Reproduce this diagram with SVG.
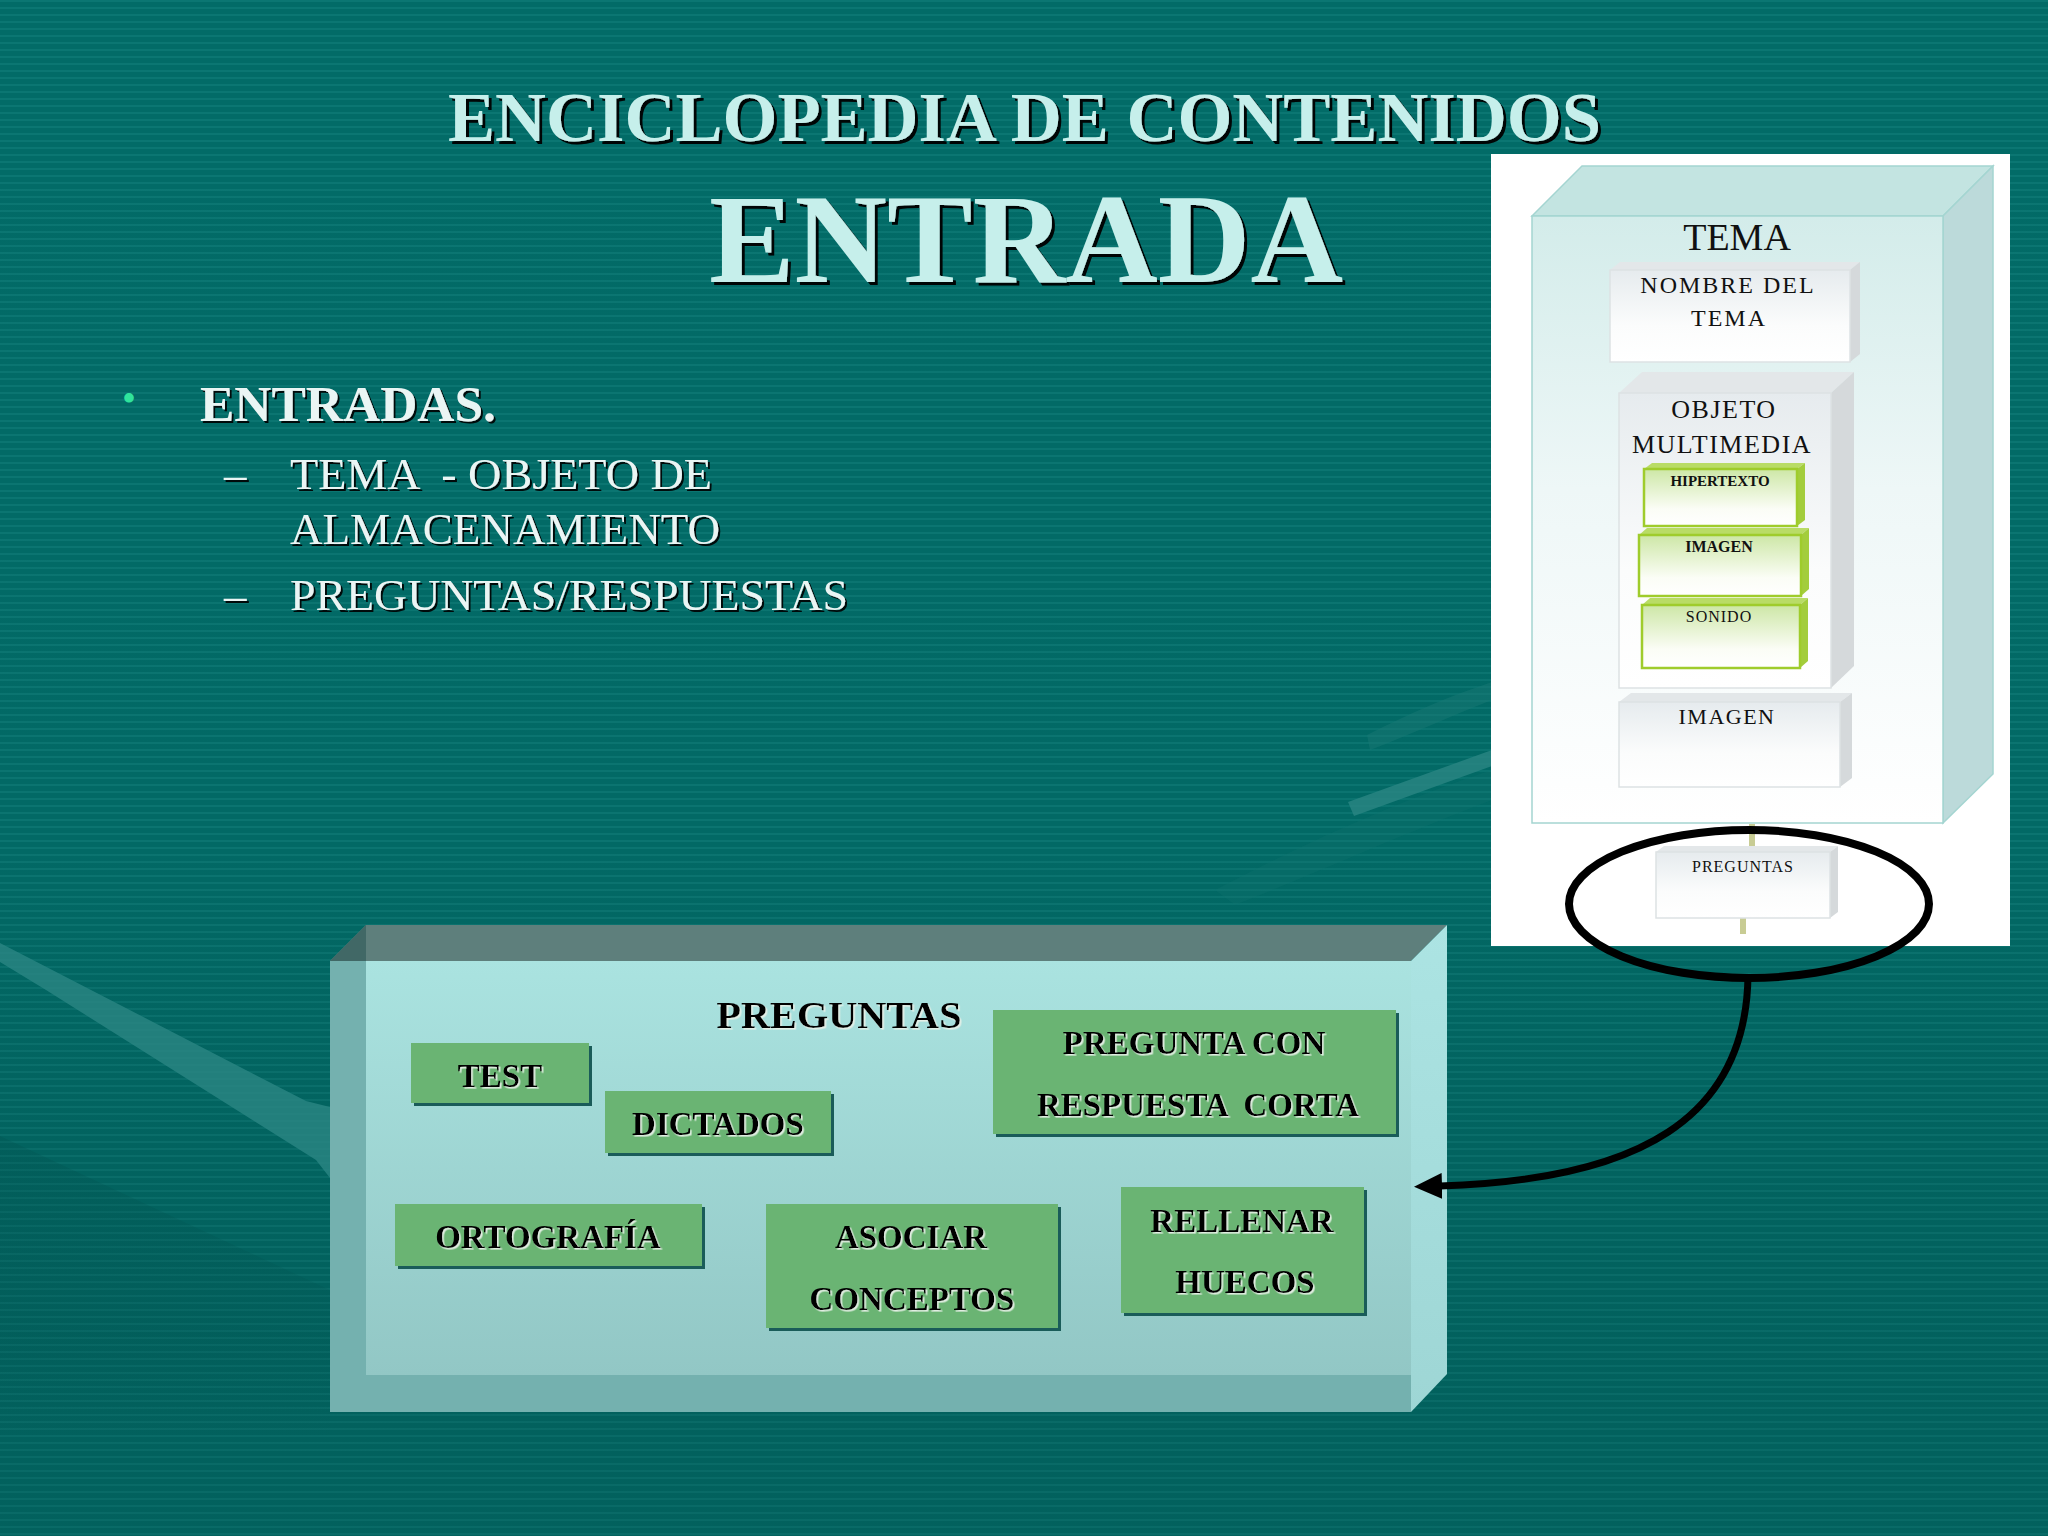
<svg xmlns="http://www.w3.org/2000/svg" width="2048" height="1536" viewBox="0 0 2048 1536">
<defs>
  <pattern id="stripes" width="16" height="7" patternUnits="userSpaceOnUse">
    <rect width="16" height="7" fill="#026b67"/>
    <rect y="0" width="16" height="2" fill="#0b7672"/>
  </pattern>
  <linearGradient id="bgShade" x1="0" y1="0" x2="0" y2="1">
    <stop offset="0" stop-color="#000" stop-opacity="0"/>
    <stop offset="0.55" stop-color="#000" stop-opacity="0.02"/>
    <stop offset="1" stop-color="#003a38" stop-opacity="0.2"/>
  </linearGradient>
  <linearGradient id="darkFade" x1="0" y1="0" x2="0" y2="1">
    <stop offset="0" stop-color="#004c4a" stop-opacity="0.22"/>
    <stop offset="0.7" stop-color="#004c4a" stop-opacity="0.12"/>
    <stop offset="1" stop-color="#004c4a" stop-opacity="0"/>
  </linearGradient>
  <linearGradient id="cubeFront" x1="0" y1="0" x2="0" y2="1">
    <stop offset="0" stop-color="#d3ecea"/>
    <stop offset="0.45" stop-color="#eef7f7"/>
    <stop offset="1" stop-color="#ffffff"/>
  </linearGradient>
  <linearGradient id="wFront" x1="0" y1="0" x2="0" y2="1">
    <stop offset="0" stop-color="#e6ebee"/>
    <stop offset="0.6" stop-color="#fbfcfc"/>
    <stop offset="1" stop-color="#ffffff"/>
  </linearGradient>
  <linearGradient id="gFront" x1="0" y1="0" x2="0" y2="1">
    <stop offset="0" stop-color="#cde7a6"/>
    <stop offset="0.7" stop-color="#fbfdf6"/>
    <stop offset="1" stop-color="#ffffff"/>
  </linearGradient>
  <linearGradient id="boxInner" x1="0" y1="0" x2="0" y2="1">
    <stop offset="0" stop-color="#aae3e0"/>
    <stop offset="1" stop-color="#92c7c5"/>
  </linearGradient>
  <linearGradient id="boxRight" x1="0" y1="0" x2="0" y2="1">
    <stop offset="0" stop-color="#ace4e3"/>
    <stop offset="1" stop-color="#9ed6d5"/>
  </linearGradient>
  <filter id="ds3" x="-5%" y="-10%" width="110%" height="130%">
    <feDropShadow dx="3" dy="3" stdDeviation="0.6" flood-color="#000" flood-opacity="0.95"/>
  </filter>
  <filter id="ds2" x="-5%" y="-10%" width="110%" height="130%">
    <feDropShadow dx="2" dy="2" stdDeviation="0.5" flood-color="#000" flood-opacity="0.9"/>
  </filter>
  <filter id="ls" x="-5%" y="-10%" width="110%" height="130%">
    <feDropShadow dx="1.6" dy="1.6" stdDeviation="0.3" flood-color="#e8f0e8" flood-opacity="0.95"/>
  </filter>
  <marker id="arrow" markerUnits="userSpaceOnUse" markerWidth="28" markerHeight="26" viewBox="0 0 28 26" refX="2" refY="13" orient="auto">
    <path d="M0,0 L28,13 L0,26 z" fill="#000"/>
  </marker>
  <style>
    .title { font-family: "Liberation Serif", serif; font-weight: bold; fill: #c6efeb; filter: url(#ds3); }
    .bul { font-family: "Liberation Serif", serif; fill: #eaf5f4; filter: url(#ds2); }
    .gshadow { fill: #1a5c59; }
    .gfill { fill: #6ab473; }
    .glabel { font-family: "Liberation Serif", serif; font-weight: bold; font-size: 33px; fill: #000; text-anchor: middle; filter: url(#ls); white-space: pre; }
    .wfront { fill: url(#wFront); stroke: #dde2e4; stroke-width: 1.5; }
    .wtop { fill: #e3e7e9; }
    .wside { fill: #d5d9db; }
    .gfront { fill: url(#gFront); stroke: #9fcc2c; stroke-width: 2.5; }
    .gtop { fill: #b9dc66; }
    .gside { fill: #a3cd3c; }
    .pix { font-family: "Liberation Serif", serif; fill: #111; text-anchor: middle; }
    .stub { stroke: #c8cc94; stroke-width: 6; }
  </style>
</defs>

<!-- background -->
<rect width="2048" height="1536" fill="url(#stripes)"/>
<rect width="2048" height="1536" fill="url(#bgShade)"/>
<g id="background-swooshes">
  <path d="M0,943 L306,1101 L330,1107 L330,1178 L316,1160 L46,990 L0,962 z" fill="#2a8683" opacity="0.8"/>
  <path d="M0,1136 L330,1290 L330,1440 L0,1440 z" fill="url(#darkFade)"/>
  <path d="M1348,802 L1492,750 L1492,766 L1354,816 z" fill="#2a8683" opacity="0.8"/>
  <path d="M1367,735 C1410,713 1450,696 1492,682 L1492,700 C1450,716 1410,735 1370,750 z" fill="#1a7a76" opacity="0.45"/>
  <path d="M1215,890 C1300,845 1400,800 1492,770 L1492,800 C1400,835 1300,880 1235,905 z" fill="#137470" opacity="0.25"/>
</g>

<!-- titles -->
<g id="titles">
  <text class="title" x="448" y="141" font-size="70" textLength="1153" lengthAdjust="spacingAndGlyphs">ENCICLOPEDIA DE CONTENIDOS</text>
  <text class="title" x="709" y="282" font-size="127" textLength="634" lengthAdjust="spacingAndGlyphs">ENTRADA</text>
</g>

<!-- bullets -->
<g id="bullets">
  <text x="122" y="412" font-family="Liberation Serif, serif" font-size="40" fill="#30e39c">•</text>
  <text class="bul" x="200" y="421" font-size="51" font-weight="bold" textLength="296" lengthAdjust="spacingAndGlyphs">ENTRADAS.</text>
  <text class="bul" x="224" y="489" font-size="45">–</text>
  <text class="bul" x="290" y="489" font-size="45" textLength="422" lengthAdjust="spacingAndGlyphs" style="white-space:pre">TEMA  - OBJETO DE</text>
  <text class="bul" x="290" y="544" font-size="45" textLength="430" lengthAdjust="spacingAndGlyphs">ALMACENAMIENTO</text>
  <text class="bul" x="224" y="610" font-size="45">–</text>
  <text class="bul" x="290" y="610" font-size="45" textLength="558" lengthAdjust="spacingAndGlyphs">PREGUNTAS/RESPUESTAS</text>
</g>

<!-- right panel: TEMA structure -->
<g id="tema-panel">
  <rect x="1491" y="154" width="519" height="792" fill="#ffffff"/>
  <g id="tema-cube">
    <polygon points="1532,216 1582,166 1993,166 1943,216" fill="#c3e4e1" stroke="#a4d5d1" stroke-width="1.5"/>
    <polygon points="1943,216 1993,166 1993,774 1943,823" fill="#bcdada" stroke="#a4d5d1" stroke-width="1.5"/>
    <rect x="1532" y="216" width="411" height="607" fill="url(#cubeFront)" stroke="#a4d5d1" stroke-width="1.5"/>
    <text class="pix" x="1737" y="250" font-size="38">TEMA</text>
  </g>
  <g id="nombre-del-tema">
    <polygon class="wtop" points="1610,270 1620,262 1860,262 1850,270"/>
    <polygon class="wside" points="1850,270 1860,262 1860,354 1850,362"/>
    <rect class="wfront" x="1610" y="270" width="240" height="92"/>
    <text class="pix" x="1728" y="293" font-size="24" letter-spacing="2">NOMBRE DEL</text>
    <text class="pix" x="1729" y="326" font-size="24" letter-spacing="2">TEMA</text>
  </g>
  <g id="objeto-multimedia">
    <polygon class="wtop" points="1619,393 1642,372 1854,372 1831,393"/>
    <polygon class="wside" points="1831,393 1854,372 1854,666 1831,688"/>
    <rect class="wfront" x="1619" y="393" width="212" height="295"/>
    <text class="pix" x="1724" y="418" font-size="26" letter-spacing="1.5">OBJETO</text>
    <text class="pix" x="1722" y="453" font-size="26" letter-spacing="1.5">MULTIMEDIA</text>
  </g>
  <g id="hipertexto">
    <polygon class="gtop" points="1644,469 1652,463 1805,463 1797,469"/>
    <polygon class="gside" points="1797,469 1805,463 1805,520 1797,526"/>
    <rect class="gfront" x="1644" y="469" width="153" height="57"/>
    <text class="pix" x="1720" y="486" font-size="15" font-weight="bold">HIPERTEXTO</text>
  </g>
  <g id="imagen-mm">
    <polygon class="gtop" points="1639,535 1647,528 1809,528 1801,535"/>
    <polygon class="gside" points="1801,535 1809,528 1809,589 1801,596"/>
    <rect class="gfront" x="1639" y="535" width="162" height="61"/>
    <text class="pix" x="1719" y="552" font-size="16" font-weight="bold">IMAGEN</text>
  </g>
  <g id="sonido">
    <polygon class="gtop" points="1642,605 1650,598 1808,598 1800,605"/>
    <polygon class="gside" points="1800,605 1808,598 1808,661 1800,668"/>
    <rect class="gfront" x="1642" y="605" width="158" height="63"/>
    <text class="pix" x="1719" y="622" font-size="16" letter-spacing="1">SONIDO</text>
  </g>
  <g id="imagen">
    <polygon class="wtop" points="1619,702 1631,693 1852,693 1840,702"/>
    <polygon class="wside" points="1840,702 1852,693 1852,778 1840,787"/>
    <rect class="wfront" x="1619" y="702" width="221" height="85"/>
    <text class="pix" x="1727" y="724" font-size="22" letter-spacing="1.5">IMAGEN</text>
  </g>
  <g id="preguntas-small">
    <line class="stub" x1="1752" y1="824" x2="1752" y2="848"/>
    <line class="stub" x1="1743" y1="918" x2="1743" y2="934"/>
    <polygon class="wtop" points="1656,852 1664,846 1838,846 1830,852"/>
    <polygon class="wside" points="1830,852 1838,846 1838,912 1830,918"/>
    <rect class="wfront" x="1656" y="852" width="174" height="66"/>
    <text class="pix" x="1743" y="872" font-size="16" letter-spacing="1">PREGUNTAS</text>
  </g>
</g>

<!-- big PREGUNTAS container -->
<g id="preguntas-box">
  <rect x="330" y="961" width="1081" height="451" fill="#74b1af"/>
  <rect x="366" y="961" width="1045" height="414" fill="url(#boxInner)"/>
  <polygon points="330,961 366,925 1447,925 1411,961" fill="#5e7f7c"/>
  <polygon points="330,961 366,925 366,961" fill="#416866"/>
  <polygon points="1411,961 1447,925 1447,1374 1411,1412" fill="url(#boxRight)"/>
  <text x="839" y="1028" font-family="Liberation Serif, serif" font-weight="bold" font-size="38" text-anchor="middle" fill="#000" filter="url(#ls)" textLength="245" lengthAdjust="spacingAndGlyphs">PREGUNTAS</text>
</g>

<g id="test">
  <rect class="gshadow" x="414" y="1046" width="178" height="60"/>
  <rect class="gfill" x="411" y="1043" width="178" height="60"/>
  <text class="glabel" x="500" y="1087">TEST</text>
</g>
<g id="dictados">
  <rect class="gshadow" x="608" y="1094" width="226" height="62"/>
  <rect class="gfill" x="605" y="1091" width="226" height="62"/>
  <text class="glabel" x="718" y="1135">DICTADOS</text>
</g>
<g id="pregunta-con-respuesta-corta">
  <rect class="gshadow" x="996" y="1013" width="403" height="124"/>
  <rect class="gfill" x="993" y="1010" width="403" height="124"/>
  <text class="glabel" x="1194" y="1054">PREGUNTA CON</text>
  <text class="glabel" x="1198" y="1116">RESPUESTA  CORTA</text>
</g>
<g id="ortografia">
  <rect class="gshadow" x="398" y="1207" width="307" height="62"/>
  <rect class="gfill" x="395" y="1204" width="307" height="62"/>
  <text class="glabel" x="548" y="1248">ORTOGRAFÍA</text>
</g>
<g id="asociar-conceptos">
  <rect class="gshadow" x="769" y="1207" width="292" height="124"/>
  <rect class="gfill" x="766" y="1204" width="292" height="124"/>
  <text class="glabel" x="911" y="1248">ASOCIAR</text>
  <text class="glabel" x="912" y="1310">CONCEPTOS</text>
</g>
<g id="rellenar-huecos">
  <rect class="gshadow" x="1124" y="1190" width="243" height="126"/>
  <rect class="gfill" x="1121" y="1187" width="243" height="126"/>
  <text class="glabel" x="1242" y="1232">RELLENAR</text>
  <text class="glabel" x="1245" y="1293">HUECOS</text>
</g>

<!-- highlight ellipse -->
<g id="highlight">
  <ellipse cx="1749" cy="904" rx="180" ry="74" fill="none" stroke="#000" stroke-width="8"/>
</g>

<!-- connectors -->
<g id="connectors">
  <path d="M1748,976 C1746,1118 1640,1180 1440,1186" fill="none" stroke="#000" stroke-width="7" marker-end="url(#arrow)"/>
</g>
</svg>
